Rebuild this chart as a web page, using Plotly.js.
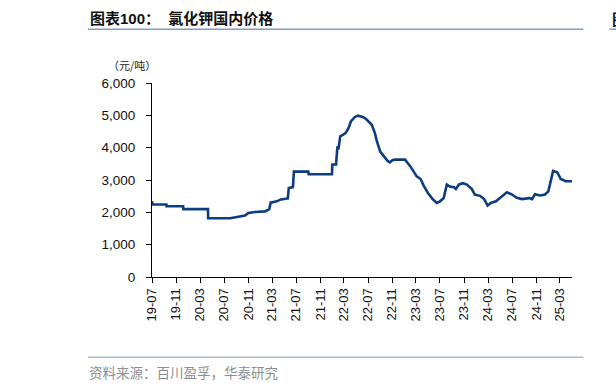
<!DOCTYPE html>
<html>
<head>
<meta charset="utf-8">
<script src="https://cdn.plot.ly/plotly-3.0.1.min.js"></script>
<style>
  html, body { margin: 0; padding: 0; background: #fff; }
  #chart { width: 616px; height: 389px; }
</style>
</head>
<body>
<div id="chart"></div>
<script>
// ---- data ----
const dates = [
  '2019-07-01','2019-07-05','2019-09-12','2019-09-13','2019-12-06','2019-12-07',
  '2020-04-10','2020-04-11','2020-08-01','2020-08-20','2020-09-20','2020-10-15',
  '2020-11-01','2020-12-05','2021-01-25','2021-02-05','2021-02-15','2021-02-22',
  '2021-03-25','2021-04-15','2021-05-20','2021-05-25','2021-06-15','2021-06-20',
  '2021-09-01','2021-09-03','2021-12-30','2022-01-01','2022-01-20','2022-01-25',
  '2022-01-28','2022-02-01','2022-02-10','2022-02-25','2022-03-10','2022-03-25',
  '2022-04-05','2022-04-25','2022-05-10','2022-06-05','2022-06-20','2022-07-20',
  '2022-08-05','2022-08-15','2022-09-01','2022-09-20','2022-10-10','2022-10-20',
  '2022-11-01','2022-11-15','2023-01-05','2023-01-15','2023-02-01','2023-03-05',
  '2023-03-25','2023-04-10','2023-05-01','2023-05-25','2023-06-15','2023-07-01',
  '2023-07-20','2023-08-05','2023-08-20','2023-09-10','2023-09-20','2023-10-05',
  '2023-10-25','2023-11-15','2023-12-10','2023-12-25','2024-01-20','2024-02-10',
  '2024-02-28','2024-03-15','2024-04-10','2024-05-05','2024-05-25','2024-06-05',
  '2024-07-01','2024-07-25','2024-08-20','2024-09-25','2024-10-10','2024-10-25',
  '2024-11-20','2024-12-15','2025-01-01','2025-01-15','2025-01-25','2025-02-15',
  '2025-03-05','2025-03-30','2025-05-01'
];
const prices = [
  2340,2240,2240,2190,2190,2100,
  2100,1815,1815,1840,1870,1900,
  1980,2010,2030,2080,2100,2300,
  2340,2400,2430,2750,2780,3260,
  3260,3180,3180,3480,3480,3900,
  4050,3950,4350,4400,4460,4620,
  4810,4950,4990,4950,4890,4710,
  4450,4200,3880,3730,3580,3545,
  3610,3630,3630,3550,3420,3110,
  3030,2820,2600,2410,2290,2340,
  2440,2860,2800,2780,2720,2860,
  2900,2860,2720,2550,2510,2410,
  2210,2290,2340,2470,2550,2620,
  2550,2450,2410,2440,2410,2560,
  2520,2550,2650,3010,3280,3240,
  3030,2960,2960
];
const tickDates = ['2019-07-01','2019-11-01','2020-03-01','2020-07-01','2020-11-01','2021-03-01',
  '2021-07-01','2021-11-01','2022-03-01','2022-07-01','2022-11-01','2023-03-01','2023-07-01',
  '2023-11-01','2024-03-01','2024-07-01','2024-11-01','2025-03-01'];
const tickLabels = ['19-07','19-11','20-03','20-07','20-11','21-03','21-07','21-11','22-03',
  '22-07','22-11','23-03','23-07','23-11','24-03','24-07','24-11','25-03'];
const yTicks = [0,1000,2000,3000,4000,5000,6000];

const titleText = '图表100：  氯化钾国内价格';
const unitText = '（元/吨）';
const sourceText = '资料来源：百川盈孚，华泰研究';

// ---- layout geometry (pixels) ----
const W = 616, H = 389;
const L = 152, R = 571.7, T = 83.3, B = 277.3;
const px = v => (v - L) / (R - L);
const py = v => (B - v) / (B - T);

const sans = 'Liberation Sans, Arial, Noto Sans CJK SC, sans-serif';
const cjk = 'Noto Sans CJK SC, sans-serif';

const trace = {
  x: dates, y: prices, type: 'scatter', mode: 'lines',
  line: { color: '#0D3D80', width: 2.6 },
  hoverinfo: 'skip'
};

const layout = {
  width: W, height: H,
  margin: { l: L, r: W - R, t: T, b: H - B, pad: 0 },
  paper_bgcolor: '#fff', plot_bgcolor: '#fff',
  showlegend: false,
  xaxis: {
    type: 'date', range: ['2019-07-01', '2025-05-01'],
    tickvals: tickDates, ticktext: tickLabels,
    tickangle: -90, ticks: 'outside', ticklen: 5, tickcolor: '#000', tickwidth: 1,
    showline: true, linecolor: '#000', linewidth: 1,
    showgrid: false, zeroline: false,
    tickfont: { family: sans, size: 13, color: '#111' },
    automargin: false
  },
  yaxis: {
    range: [0, 6000], tickvals: yTicks, tickformat: ',d',
    ticks: 'outside', ticklen: 5, tickcolor: '#000', tickwidth: 1,
    showline: true, linecolor: '#000', linewidth: 1,
    showgrid: false, zeroline: false,
    ticklabelstandoff: 8,
    tickfont: { family: sans, size: 13.5, color: '#111' },
    automargin: false
  },
  shapes: [
    { type: 'line', xref: 'paper', yref: 'paper', x0: px(88), x1: px(583), y0: py(29.5), y1: py(29.5),
      line: { color: '#7F9CC3', width: 1.5 } },
    { type: 'line', xref: 'paper', yref: 'paper', x0: px(609), x1: px(620), y0: py(29.5), y1: py(29.5),
      line: { color: '#7F9CC3', width: 1.5 } },
    { type: 'line', xref: 'paper', yref: 'paper', x0: px(88), x1: px(583), y0: py(357.5), y1: py(357.5),
      line: { color: '#A9BCD6', width: 1.5 } }
  ],
  annotations: [
    { text: '<b>' + titleText + '</b>', xref: 'paper', yref: 'paper', x: px(88), y: py(18.5),
      xanchor: 'left', yanchor: 'middle', showarrow: false,
      font: { family: 'Liberation Sans, Noto Sans CJK SC, sans-serif', size: 15, color: '#111' } },
    { text: '<b>图</b>', xref: 'paper', yref: 'paper', x: px(610), y: py(18.5),
      xanchor: 'left', yanchor: 'middle', showarrow: false,
      font: { family: cjk, size: 15, color: '#111' } },
    { text: unitText, xref: 'paper', yref: 'paper', x: px(106), y: py(65),
      xanchor: 'left', yanchor: 'middle', showarrow: false,
      font: { family: cjk, size: 11, color: '#222' } },
    { text: sourceText, xref: 'paper', yref: 'paper', x: px(87), y: py(372),
      xanchor: 'left', yanchor: 'middle', showarrow: false,
      font: { family: cjk, size: 13.5, color: '#8E8E8E' } }
  ]
};

Plotly.newPlot('chart', [trace], layout, { staticPlot: true, displayModeBar: false });
</script>
</body>
</html>
